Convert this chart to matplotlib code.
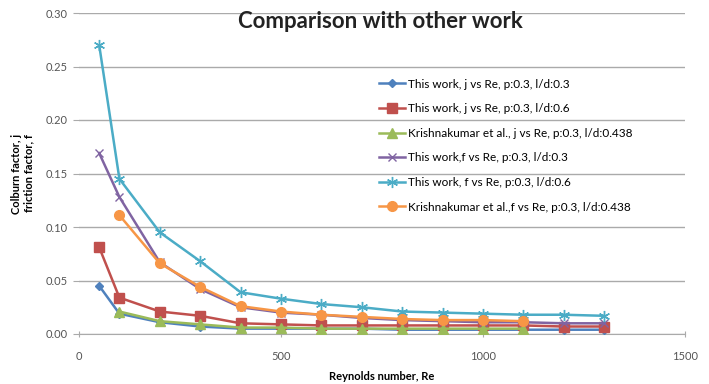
import matplotlib
matplotlib.use("Agg")
import matplotlib.pyplot as plt

plt.rcParams['font.family'] = ['Lato', 'DejaVu Sans']

re_full = [50, 100, 200, 300, 400, 500, 600, 700, 800, 900, 1000, 1100, 1200, 1300]
re_kk = [100, 200, 300, 400, 500, 600, 700, 800, 900, 1000, 1100]

j_tw_03 = [0.045, 0.019, 0.011, 0.007, 0.005, 0.005, 0.005, 0.005, 0.004, 0.004, 0.004, 0.004, 0.004, 0.004]
j_tw_06 = [0.081, 0.034, 0.021, 0.017, 0.010, 0.009, 0.008, 0.008, 0.008, 0.008, 0.008, 0.008, 0.007, 0.007]
j_kk = [0.021, 0.012, 0.009, 0.006, 0.006, 0.005, 0.005, 0.005, 0.005, 0.005, 0.005]
f_tw_03 = [0.169, 0.128, 0.067, 0.042, 0.025, 0.020, 0.018, 0.015, 0.013, 0.012, 0.011, 0.011, 0.010, 0.010]
f_tw_06 = [0.270, 0.145, 0.095, 0.068, 0.039, 0.033, 0.028, 0.025, 0.021, 0.020, 0.019, 0.018, 0.018, 0.017]
f_kk = [0.111, 0.066, 0.044, 0.026, 0.021, 0.018, 0.016, 0.014, 0.013, 0.013, 0.012]

labels = [
    "This work, j vs Re, p:0.3, l/d:0.3",
    "This work, j vs Re, p:0.3, l/d:0.6",
    "Krishnakumar et al., j vs Re, p:0.3, l/d:0.438",
    "This work,f vs Re, p:0.3, l/d:0.3",
    "This work, f vs Re, p:0.3, l/d:0.6",
    "Krishnakumar et al.,f vs Re, p:0.3, l/d:0.438",
]

fig = plt.figure(figsize=(7.09, 3.84), dpi=100)
ax = fig.add_axes([79/709, 1-334/384, (685-79)/709, (334-13)/384])

lw = 1.8
ax.plot(re_full, j_tw_03, color='#4F81BD', marker='D', ms=4, lw=lw, label=labels[0], zorder=3)
ax.plot(re_full, j_tw_06, color='#C0504D', marker='s', ms=7, lw=lw, label=labels[1], zorder=3)
ax.plot(re_kk, j_kk, color='#9BBB59', marker='^', ms=7, lw=lw, label=labels[2], zorder=3)
ax.plot(re_full, f_tw_03, color='#8064A2', marker='x', ms=6, mew=1, lw=lw, label=labels[3], zorder=3)
ax.plot(re_full, f_tw_06, color='#4BACC6', marker=(6, 2, 0), ms=8, mew=1, lw=lw, label=labels[4], zorder=3)
ax.plot(re_kk, f_kk, color='#F79646', marker='o', ms=7, lw=lw, label=labels[5], zorder=3)

ax.set_xlim(0, 1500)
ax.set_ylim(0, 0.30)
ax.set_xticks([0, 500, 1000, 1500])
ax.set_yticks([0, 0.05, 0.10, 0.15, 0.20, 0.25, 0.30])
ax.set_yticklabels([f"{v:.2f}" for v in [0, 0.05, 0.10, 0.15, 0.20, 0.25, 0.30]])
ax.grid(axis='y', color='#AAAAAA', lw=1)
ax.set_axisbelow(True)
for s in ['top', 'right', 'left']:
    ax.spines[s].set_visible(False)
ax.spines['bottom'].set_color('#AAAAAA')
ax.tick_params(axis='y', length=4, color='#AAAAAA', labelsize=8, labelcolor='#555555', pad=4)
ax.tick_params(axis='x', length=4, color='#AAAAAA', labelsize=8, labelcolor='#555555', pad=10, direction='inout')

ax.set_xlabel("Reynolds number, Re", fontsize=8, fontweight='bold', va='center')
ax.xaxis.set_label_coords(0.5, -(377-334)/321)
ax.set_ylabel("Colburn factor, j\nfriction factor, f", fontsize=8, fontweight='bold', labelpad=8)

fig.text(380/709, 1-21/384, "Comparison with other work", ha='center', va='center',
         fontsize=16, fontweight='bold', color='#222222')

leg = ax.legend(loc='upper left', bbox_to_anchor=(368/709, 1-68/384), bbox_transform=fig.transFigure,
                frameon=False, fontsize=8.5, labelspacing=1.15, handlelength=2.2, handletextpad=0.3)
leg.set_zorder(5)

fig.savefig("out.png", dpi=100)
